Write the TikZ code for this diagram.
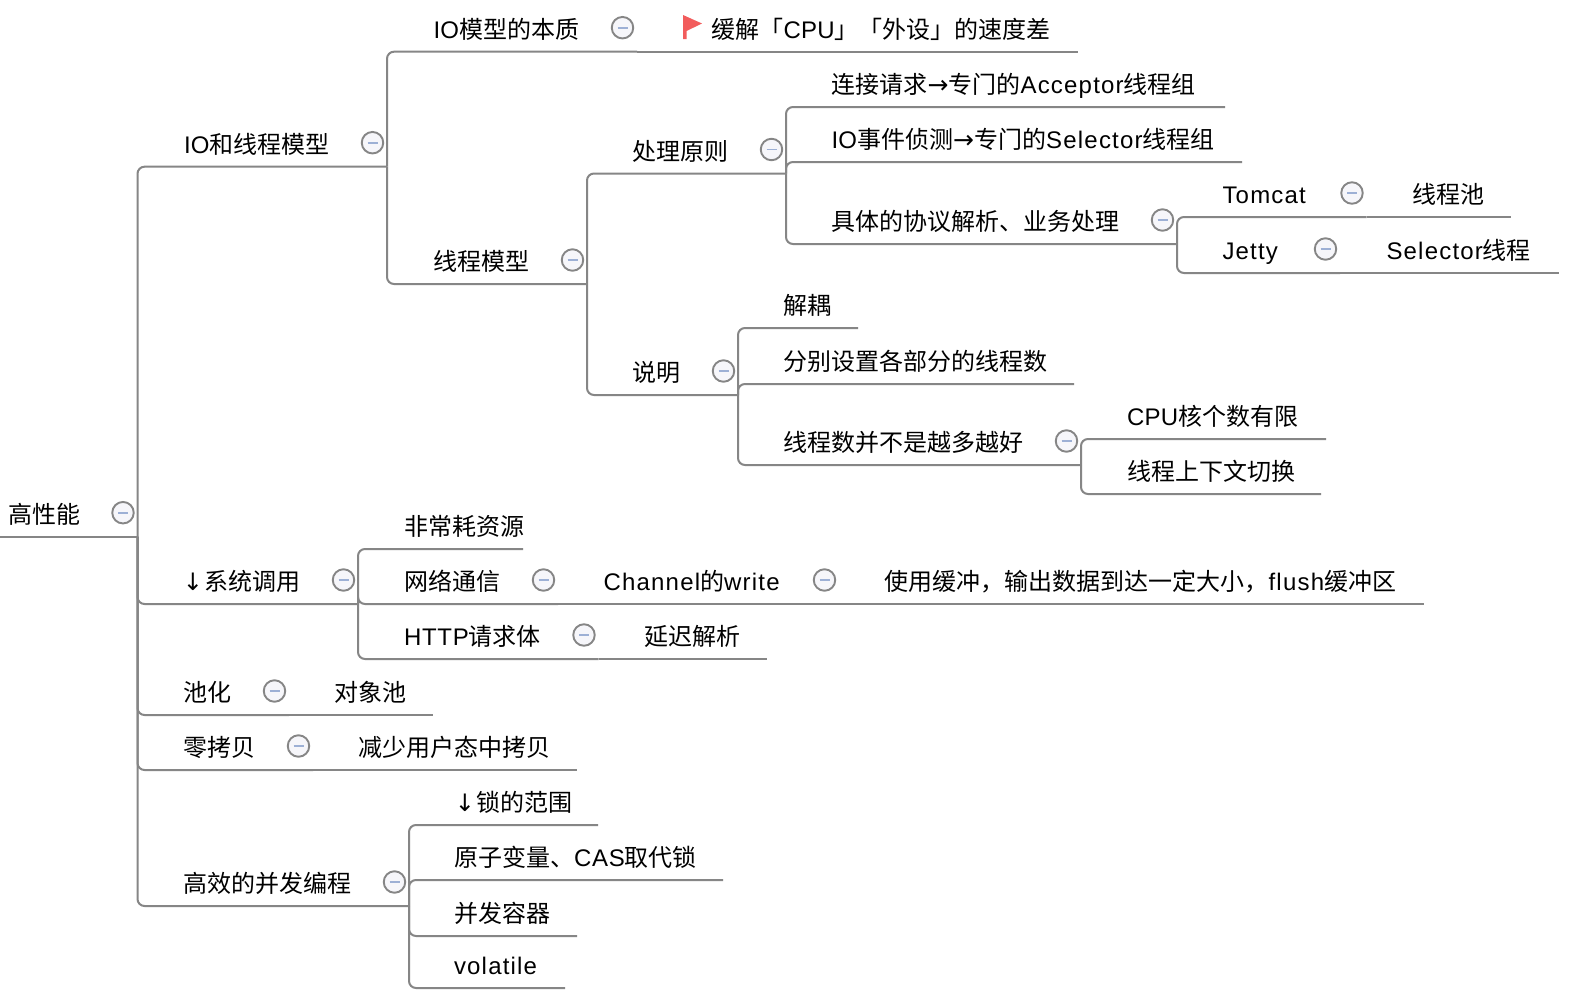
\documentclass[tikz,border=0pt]{standalone}
\usepackage{fontspec}
\setmainfont{Noto Sans CJK SC}
\newfontfamily\latfont[LetterSpace=5]{Liberation Sans}
\newfontfamily\capfont[LetterSpace=3]{Liberation Sans}
\newfontfamily\capfontb[LetterSpace=1]{Liberation Sans}
\newfontfamily\arrfont{DejaVu Sans}
\newcommand\la[1]{{\latfont #1}}
\newcommand\lc[1]{{\capfont #1}}
\newcommand\ld[1]{{\capfontb #1}}
\newcommand\rarr{\makebox[21pt][c]{\arrfont\fontsize{25}{28}\selectfont →}}
\newcommand\darr{\makebox[19.5pt][l]{\hspace{-2.5pt}\arrfont\fontsize{24}{28}\selectfont ↓}}
\definecolor{linkc}{HTML}{868686}
\definecolor{togf}{HTML}{F6F6FA}
\definecolor{togm}{HTML}{9DB0D5}
\definecolor{flagc}{HTML}{F25C5C}
\tikzset{
  txt/.style={anchor=base west,inner sep=0pt,outer sep=0pt,text=black,font=\fontsize{24}{28}\selectfont,yshift=13.5pt},
  link/.style={draw=linkc,line width=2pt,rounded corners=7pt},
  togg/.style={circle,draw=linkc,fill=togf,line width=1.9pt,minimum size=21.5pt,inner sep=0pt,xshift=-14.5pt,yshift=24pt,
    path picture={\draw[togm,line width=1.8pt] ([xshift=-5pt]path picture bounding box.center) -- ([xshift=5pt]path picture bounding box.center);}},
}
\newcommand\tp[5]{\node[txt] (#1) at (#2,#3) {#5}; \coordinate (#1-e) at (#4,#3);}
\newcommand\tg[1]{\node[togg] (#1-t) at (#1-e) {};}
\begin{document}
\begin{tikzpicture}[x=1pt,y=-1pt]
\useasboundingbox[fill=white] (0,0) rectangle (1596,994);
\coordinate (root-s) at (0,536.7);
\tp{root}{9}{536.7}{137.5}{高性能}
% branch 1
\tp{iot}{184}{166.7}{387}{\ld{IO}和线程模型}
\tp{essence}{433.5}{51.7}{637}{\ld{IO}模型的本质}
\tp{relief}{711.5}{51.7}{1078}{缓解「\ld{CPU}」「外设」的速度差}
\tp{thread}{433.6}{284}{587}{线程模型}
\tp{rule}{632}{173.5}{786}{处理原则}
\tp{conn}{831.6}{107}{1225}{连接请求\rarr 专门的\la{Acceptor}线程组}
\tp{event}{831.6}{162}{1242}{\ld{IO}事件侦测\rarr 专门的\la{Selector}线程组}
\tp{proto}{831.6}{244}{1177}{具体的协议解析、业务处理}
\tp{tomcat}{1222.5}{217}{1366.5}{\la{Tomcat}}
\tp{pool}{1412.5}{217}{1511}{线程池}
\tp{jetty}{1222.5}{273}{1340}{\la{Jetty}}
\tp{sel}{1386.5}{273}{1559}{\la{Selector}线程}
\tp{note}{632}{395}{738}{说明}
\tp{dec}{783}{328}{858}{解耦}
\tp{sep}{783}{384}{1074}{分别设置各部分的线程数}
\tp{num}{783}{465}{1081}{线程数并不是越多越好}
\tp{cpu}{1127}{439}{1326}{\ld{CPU}核个数有限}
\tp{ctx}{1127}{494}{1321}{线程上下文切换}
% branch 2
\tp{sys}{185.3}{604}{358}{\darr 系统调用}
\tp{res}{404}{549}{523}{非常耗资源}
\tp{net}{404}{604}{558}{网络通信}
\tp{chan}{603.6}{604}{839}{\la{Channel}的\la{write}}
\tp{buf}{884.6}{604}{1424}{使用缓冲，输出数据到达一定大小，\la{flush}缓冲区}
\tp{http}{404}{659}{598.5}{\lc{HTTP}请求体}
\tp{lazy}{644}{659}{767}{延迟解析}
% branch 3,4
\tp{pooling}{183}{715}{289}{池化}
\tp{obj}{334}{715}{433}{对象池}
\tp{zero}{183}{770}{313}{零拷贝}
\tp{less}{358}{770}{577}{减少用户态中拷贝}
% branch 5
\tp{conc}{183}{906}{409}{高效的并发编程}
\tp{lock}{457.3}{825}{598}{\darr 锁的范围}
\tp{atom}{454}{880}{723}{原子变量、\lc{CAS}取代锁}
\tp{cont}{454}{936}{577}{并发容器}
\tp{vol}{454}{988}{565}{\la{volatile}}
% connectors
\draw[link] (root-s) -- (root-e);
\foreach \c in {iot,sys,pooling,zero,conc} \draw[link] (root-e) |- (\c-e);
\foreach \c in {essence,thread} \draw[link] (iot-e) |- (\c-e);
\draw[link] (essence-e) -- (relief-e);
\foreach \c in {rule,note} \draw[link] (thread-e) |- (\c-e);
\foreach \c in {conn,event,proto} \draw[link] (rule-e) |- (\c-e);
\foreach \c in {tomcat,jetty} \draw[link] (proto-e) |- (\c-e);
\draw[link] (tomcat-e) -- (pool-e);
\draw[link] (jetty-e) -- (sel-e);
\foreach \c in {dec,sep,num} \draw[link] (note-e) |- (\c-e);
\foreach \c in {cpu,ctx} \draw[link] (num-e) |- (\c-e);
\foreach \c in {res,net,http} \draw[link] (sys-e) |- (\c-e);
\draw[link] (net-e) -- (chan-e);
\draw[link] (chan-e) -- (buf-e);
\draw[link] (http-e) -- (lazy-e);
\draw[link] (pooling-e) -- (obj-e);
\draw[link] (zero-e) -- (less-e);
\foreach \c in {lock,atom,cont,vol} \draw[link] (conc-e) |- (\c-e);
% toggles
\foreach \c in {root,iot,essence,thread,rule,proto,tomcat,jetty,note,num,sys,net,chan,http,pooling,zero,conc} {\tg{\c}}
% flag
\fill[flagc] (683,15) -- (702,23.5) -- (686.5,31) -- (686.5,39) -- (683,39) -- cycle;
\end{tikzpicture}
\end{document}
